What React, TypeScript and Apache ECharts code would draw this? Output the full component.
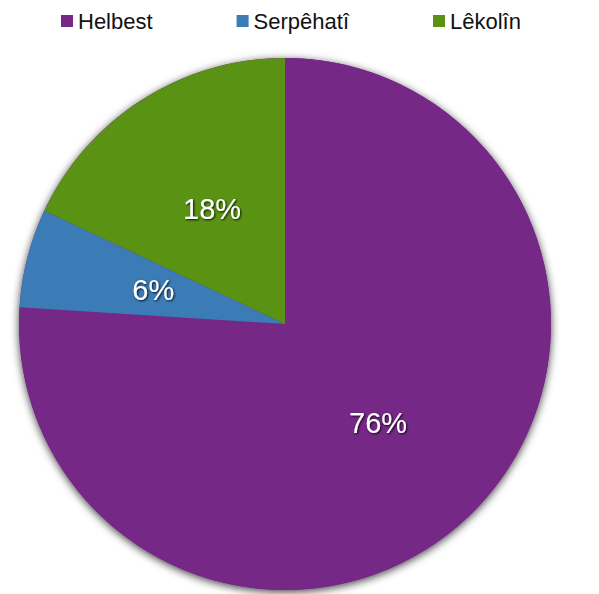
import React, { useEffect, useRef } from "react";
import * as echarts from "echarts";

const categories = ["Helbest", "Serpêhatî", "Lêkolîn"];
const values = [76, 6, 18];
const colors = ["#762886", "#3b7bb6", "#5a9314"];

export default function App() {
  const ref = useRef<HTMLDivElement>(null);
  useEffect(() => {
    document.body.style.margin = "0";
    const chart = echarts.init(ref.current!, null, { renderer: "svg" });
    const center = [285, 324];
    const radius = 266;
    chart.setOption({
      animation: false,
      color: colors,
      legend: {
        data: categories,
        left: 56,
        top: 5,
        icon: "rect",
        itemWidth: 12,
        itemHeight: 12,
        itemGap: 84,
        textStyle: {
          fontFamily: "Liberation Sans, Arial, sans-serif",
          fontSize: 22,
          color: "#111",
        },
      },
      series: [
        {
          type: "pie",
          silent: true,
          center,
          radius,
          startAngle: 90,
          label: { show: false },
          labelLine: { show: false },
          legendHoverLink: false,
          itemStyle: {
            color: "#762886",
            shadowBlur: 8,
            shadowColor: "rgba(0,0,0,0.75)",
            shadowOffsetY: 2,
          },
          data: [{ value: 1, name: "__bg" }],
          z: 1,
        },
        {
          type: "pie",
          center,
          radius,
          startAngle: 90,
          clockwise: true,
          z: 2,
          label: {
            show: true,
            position: "inside",
            formatter: (p: any) => `${p.value}%`,
            color: "#fff",
            fontFamily: "Liberation Sans, Arial, sans-serif",
            fontSize: 29,
            textShadowColor: "rgba(0,0,0,0.9)",
            textShadowBlur: 2,
            textShadowOffsetX: 1,
            textShadowOffsetY: 1,
          },
          labelLine: { show: false },
          itemStyle: { borderWidth: 0 },
          emphasis: { disabled: true },
          data: categories.map((name, i) => ({ name, value: values[i] })),
        },
      ],
    });
    return () => chart.dispose();
  }, []);
  return <div ref={ref} style={{ width: 599, height: 594 }} />;
}
